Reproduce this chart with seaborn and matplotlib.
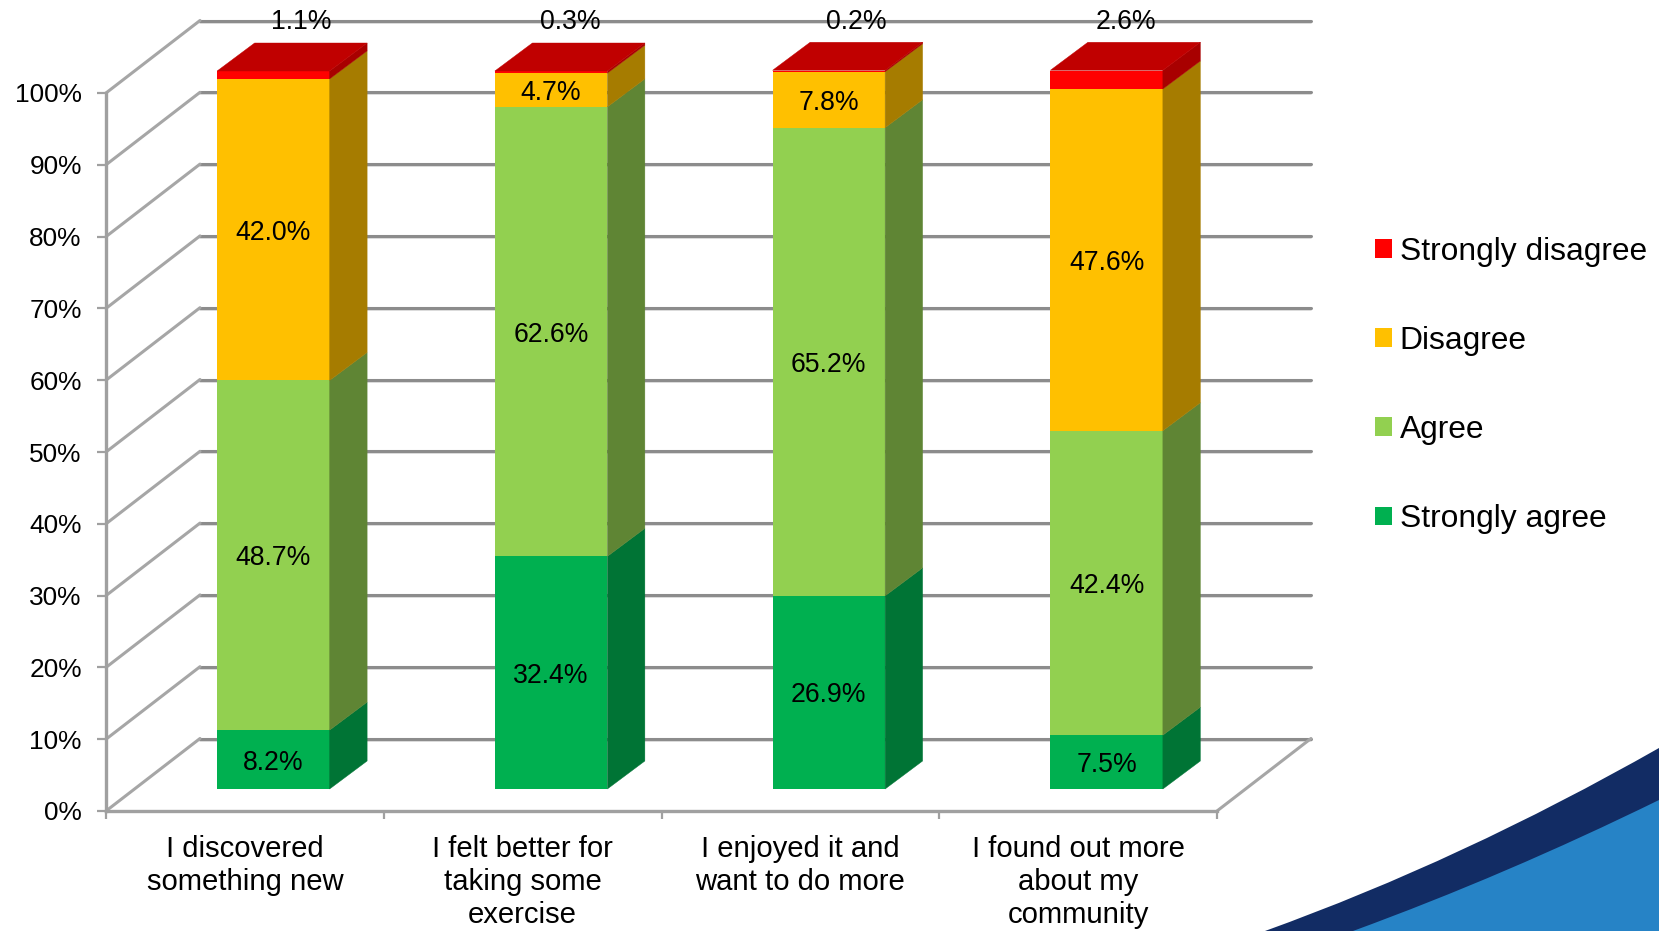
"""
Stacked agreement chart drawn as a fake 3D column chart.
Faces come from seaborn bars, the sides and walls are added on the same scales.
"""

import matplotlib.pyplot as plt
import pandas as pd
import seaborn as sns
from matplotlib.patches import Patch, PathPatch, Polygon
from matplotlib.path import Path

QUESTIONS = [
    "I discovered\nsomething new",
    "I felt better for\ntaking some\nexercise",
    "I enjoyed it and\nwant to do more",
    "I found out more\nabout my\ncommunity",
]
STRONGLY_AGREE = [8.2, 32.4, 26.9, 7.5]
AGREE = [48.7, 62.6, 65.2, 42.4]
DISAGREE = [42.0, 4.7, 7.8, 47.6]
STRONGLY_DISAGREE = [1.1, 0.3, 0.2, 2.6]
SERIES_NAMES = ["Strongly agree", "Agree", "Disagree", "Strongly disagree"]
Y_TICKS = [0, 10, 20, 30, 40, 50, 60, 70, 80, 90, 100]

FACE_COLORS = ["#00B050", "#92D050", "#FFC000", "#FF0000"]
SIDE_COLORS = ["#007435", "#5F8534", "#A67C00", "#A80000"]
TOP_COLOR = "#C00000"
GRID_COLOR = "#8C8C8C"
FONT_SIZE_SMALL = 19.2

W, H = 1659, 931
BAR_WIDTH = 0.405


def pixel_axes(fig, left, right, bottom, top):
    return fig.add_axes([left / W, 1 - bottom / H, (right - left) / W, (bottom - top) / H])


def draw_walls(ax, dx, dy):
    # back wall lines plus the slanted lines on the left wall and floor
    for tick in Y_TICKS:
        ax.plot([-0.5 + dx, 3.5 + dx], [tick + dy - 0.3] * 2, color="#D8D8D8", lw=1.2,
                clip_on=False, zorder=1)
        ax.plot([-0.5 + dx, 3.5 + dx], [tick + dy] * 2, color=GRID_COLOR, lw=2.2,
                clip_on=False, zorder=1.1)
        ax.plot([-0.5, -0.5 + dx], [tick, tick + dy], color="#A6A6A6", lw=2.2,
                clip_on=False, zorder=1.1)
    ax.plot([3.5, 3.5 + dx], [0, dy], color="#A6A6A6", lw=2.2, clip_on=False, zorder=1.1)


def draw_sides(ax, stacks, dx, dy):
    half = BAR_WIDTH / 2
    for i, stack in enumerate(stacks):
        right = i + half
        left = i - half
        base = 0
        for value, side in zip(stack, SIDE_COLORS):
            ax.add_patch(Polygon(
                [(right, base), (right + dx, base + dy),
                 (right + dx, base + value + dy), (right, base + value)],
                closed=True, facecolor=side, edgecolor=side, lw=0.3, clip_on=False, zorder=4,
            ))
            base += value
        ax.add_patch(Polygon(
            [(left, base), (left + dx, base + dy), (right + dx, base + dy), (right, base)],
            closed=True, facecolor=TOP_COLOR, edgecolor=TOP_COLOR, lw=0.3, clip_on=False, zorder=4,
        ))


def draw_swoosh(fig):
    # decoration from the slide template, in the corner
    bg = fig.add_axes([0, 0, 1, 1], zorder=-1)
    bg.set_xlim(0, W)
    bg.set_ylim(H, 0)
    bg.axis("off")
    codes = [Path.MOVETO, Path.CURVE3, Path.CURVE3, Path.LINETO, Path.CLOSEPOLY]
    navy = Path([(1265, 931), (1462, 860), (1659, 748), (1659, 931), (1265, 931)], codes)
    blue = Path([(1353, 931), (1506, 875), (1659, 800), (1659, 931), (1353, 931)], codes)
    bg.add_patch(PathPatch(navy, facecolor="#122C64", edgecolor="none"))
    bg.add_patch(PathPatch(blue, facecolor="#2683C6", edgecolor="none"))


def main():
    sns.set_style("white")
    plt.rcParams["font.family"] = ["Liberation Sans", "DejaVu Sans"]

    series = [STRONGLY_AGREE, AGREE, DISAGREE, STRONGLY_DISAGREE]
    df = pd.DataFrame(dict(zip(SERIES_NAMES, series)))
    df["question"] = QUESTIONS
    cumulative = df[SERIES_NAMES].cumsum(axis=1)
    cumulative["question"] = QUESTIONS

    fig = plt.figure(figsize=(W / 100, H / 100), dpi=100, facecolor="white")
    draw_swoosh(fig)

    # front plane carries the axis, the bars stand a little further back
    ax = pixel_axes(fig, 106, 1217, 811, 93)
    ax.patch.set_alpha(0)
    ax.set_xlim(-0.5, 3.5)
    ax.set_ylim(0, 100)
    for name in ["top", "right"]:
        ax.spines[name].set_visible(False)
    for name in ["left", "bottom"]:
        ax.spines[name].set_color("#A0A0A0")
        ax.spines[name].set_linewidth(2.4)
    ax.set_yticks(Y_TICKS)
    ax.set_yticklabels([f"{t}%" for t in Y_TICKS], fontsize=18.9, color="black",
                       va="center_baseline")
    ax.set_xticks([-0.5, 0.5, 1.5, 2.5, 3.5])
    ax.set_xticklabels([])
    ax.set_xticks(range(len(QUESTIONS)), labels=QUESTIONS, minor=True, fontsize=21.1,
                  linespacing=1.24, va="top", color="black")
    ax.tick_params(axis="y", which="major", left=True, length=6.5, width=1.6, color="#A0A0A0", pad=11)
    ax.tick_params(axis="x", which="major", bottom=True, length=5.5, width=1.6, color="#A0A0A0")
    ax.tick_params(axis="x", which="minor", bottom=False, length=0, pad=17)
    draw_walls(ax, 94 / 277.75, 72.5 / 7.18)

    ax_bar = pixel_axes(fig, 134.5, 1245.5, 789, 71)
    ax_bar.patch.set_alpha(0)
    for name, color in reversed(list(zip(SERIES_NAMES, FACE_COLORS))):
        sns.barplot(data=cumulative, x="question", y=name, color=color, saturation=1,
                    width=BAR_WIDTH, linewidth=0, ax=ax_bar, zorder=3)
    ax_bar.set_xlim(-0.5, 3.5)
    ax_bar.set_ylim(0, 100)
    ax_bar.axis("off")
    draw_sides(ax_bar, list(zip(*series)), 37.5 / 277.75, 28 / 7.18)

    # inner labels sit in the middle of each segment
    for name in SERIES_NAMES[:3]:
        bases = cumulative[name] - df[name]
        for i, value in enumerate(df[name]):
            ax_bar.annotate(f"{value:.1f}%", xy=(i, bases[i] + value / 2), xytext=(0, -2.2),
                            textcoords="offset points", ha="center", va="center",
                            fontsize=FONT_SIZE_SMALL, color="black", zorder=6)

    # the small top segment is labelled above the chart
    top_shift = [28, 19, 27, 19]
    for i, value in enumerate(STRONGLY_DISAGREE):
        ax_bar.annotate(f"{value:.1f}%", xy=(i, 100), xytext=(top_shift[i] * 0.72, 35),
                        textcoords="offset points", ha="center", va="center",
                        fontsize=FONT_SIZE_SMALL, color="black", zorder=6, annotation_clip=False)

    handles = [Patch(facecolor=c, edgecolor="none", label=n)
               for n, c in zip(SERIES_NAMES[::-1], FACE_COLORS[::-1])]
    fig.legend(handles=handles, loc="center left", bbox_to_anchor=(1375 / W, 1 - 385.5 / H),
               frameon=False, fontsize=22.9, handlelength=0.53, handleheight=0.53,
               handletextpad=0.25, labelspacing=1.86, borderaxespad=0, borderpad=0,
               labelcolor="black")

    fig.savefig("out.png", dpi=100)
    plt.close(fig)


if __name__ == "__main__":
    main()
